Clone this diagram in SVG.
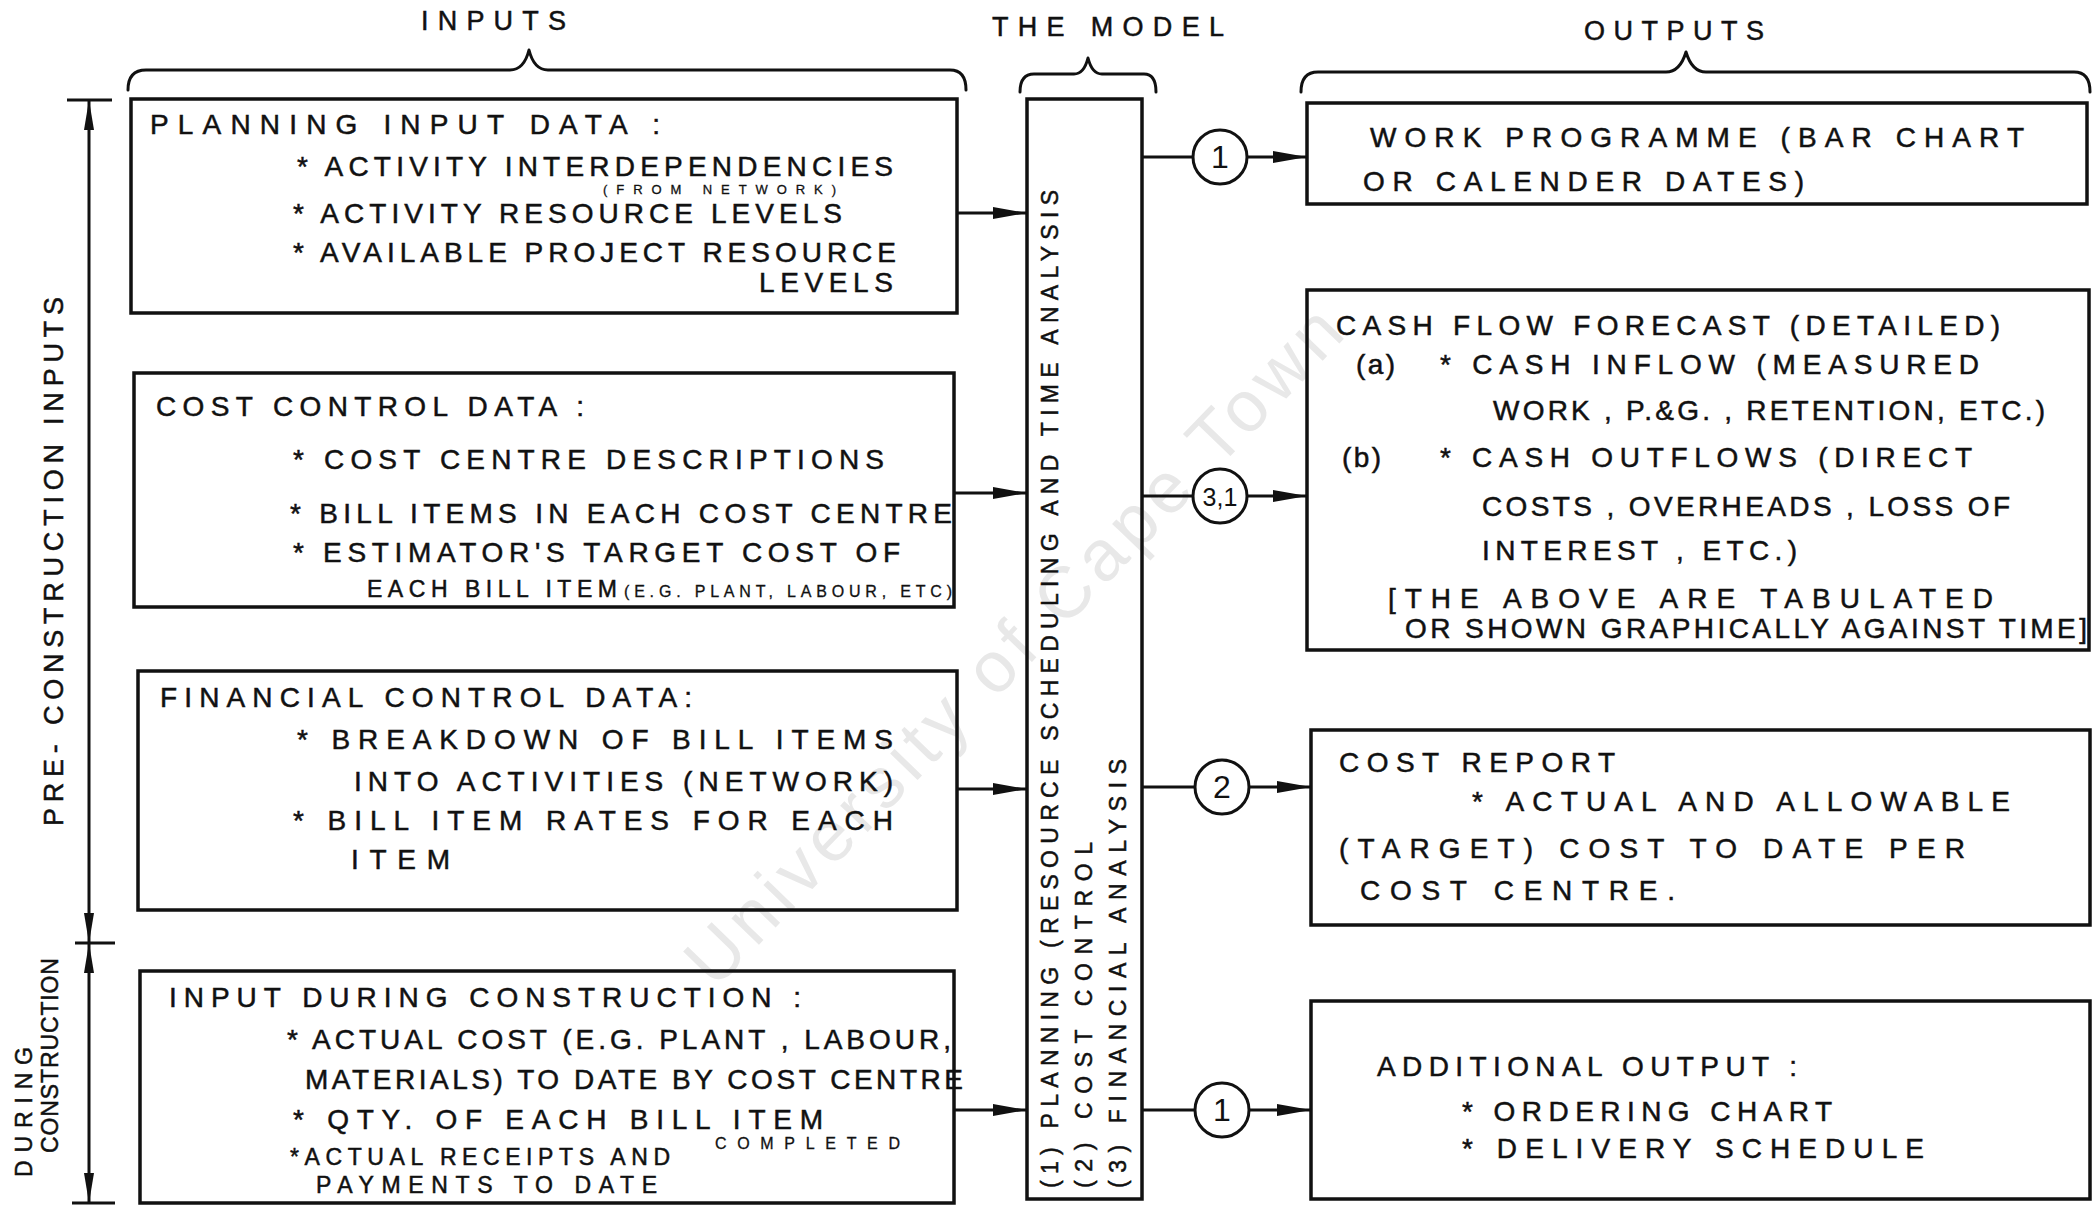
<svg xmlns="http://www.w3.org/2000/svg" width="2096" height="1206" viewBox="0 0 2096 1206">
  <style>
    .bg { fill: #ffffff; }
    .box { fill: none; stroke: #111; stroke-width: 3.5; }
    .ln { fill: none; stroke: #111; stroke-width: 3; }
    .brace { fill: none; stroke: #111; stroke-width: 3; stroke-linecap: round; stroke-linejoin: round; }
    .t { font-family: "Liberation Sans", Arial, sans-serif; font-size: 28px; fill: #111; stroke: #111; stroke-width: 0.5; }
    .sm { font-size: 16px; stroke-width: 0.3; }
    .xs { font-size: 13px; stroke-width: 0.3; }
    .md { font-size: 23px; }
    .hd { font-family: "Liberation Sans", Arial, sans-serif; font-size: 27px; fill: #111; stroke: #111; stroke-width: 0.5; }
    .num { font-family: "Liberation Sans", Arial, sans-serif; font-size: 32px; fill: #111; text-anchor: middle; }
    .wm { font-family: "Liberation Sans", Arial, sans-serif; font-size: 72px; fill: #e8e8e8; }
  </style>
  <defs>
    <marker id="arr" viewBox="0 0 34 16" refX="34" refY="8" markerWidth="34" markerHeight="16" markerUnits="userSpaceOnUse" orient="auto">
      <path d="M0,2 L34,8 L0,14 Z" fill="#111"/>
    </marker>
    <marker id="dim" viewBox="0 0 30 14" refX="30" refY="7" markerWidth="30" markerHeight="14" markerUnits="userSpaceOnUse" orient="auto-start-reverse">
      <path d="M0,2 L30,7 L0,12 Z" fill="#111"/>
    </marker>
  </defs>

  <rect class="bg" x="0" y="0" width="2096" height="1206"/>

  <!-- faint watermark behind everything -->
  <text class="wm" transform="translate(715,990) rotate(-46)" textLength="910">University of Cape Town</text>

  <!-- column headings and braces -->
  <g id="headings">
    <text class="hd" x="421" y="30" textLength="145">INPUTS</text>
    <text class="hd" x="992" y="36" textLength="232">THE MODEL</text>
    <text class="hd" x="1584" y="40" textLength="180">OUTPUTS</text>
    <path class="brace" d="M128,90 Q128,70 146,70 L510,70 Q524,70 529,50 Q534,70 548,70 L950,70 Q966,70 966,90"/>
    <path class="brace" d="M1020,92 Q1020,74 1034,74 L1074,74 Q1084,74 1088,58 Q1092,74 1102,74 L1144,74 Q1156,74 1156,92"/>
    <path class="brace" d="M1301,92 Q1301,72 1318,72 L1666,72 Q1680,72 1686,52 Q1692,72 1706,72 L2074,72 Q2090,72 2090,92"/>
  </g>

  <!-- phase dimension line on the left -->
  <g id="phases">
    <line class="ln" x1="89" y1="100" x2="89" y2="943" marker-start="url(#dim)" marker-end="url(#dim)"/>
    <line class="ln" x1="89" y1="943" x2="89" y2="1203" marker-start="url(#dim)" marker-end="url(#dim)"/>
    <line class="ln" x1="67" y1="100" x2="112" y2="100"/>
    <line class="ln" x1="75" y1="943" x2="115" y2="943"/>
    <line class="ln" x1="72" y1="1203" x2="115" y2="1203"/>
    <text class="hd" transform="translate(63,826) rotate(-90)" textLength="529">PRE- CONSTRUCTION  INPUTS</text>
    <text class="t md" transform="translate(32,1177) rotate(-90)" textLength="130">DURING</text>
    <text class="t md" transform="translate(58,1153) rotate(-90)" textLength="195">CONSTRUCTION</text>
  </g>

  <!-- input nodes -->
  <g id="planning-input">
    <rect class="box" x="131" y="99" width="826" height="214"/>
    <text class="t" x="150" y="134" textLength="510">PLANNING INPUT DATA :</text>
    <text class="t" x="297" y="176" textLength="596">* ACTIVITY  INTERDEPENDENCIES</text>
    <text class="t xs" x="603" y="194" textLength="233">(FROM NETWORK)</text>
    <text class="t" x="293" y="223" textLength="549">* ACTIVITY RESOURCE LEVELS</text>
    <text class="t" x="293" y="262" textLength="603">* AVAILABLE PROJECT RESOURCE</text>
    <text class="t" x="759" y="292" textLength="134">LEVELS</text>
  </g>

  <g id="cost-control-data">
    <rect class="box" x="134" y="373" width="820" height="234"/>
    <text class="t" x="156" y="416" textLength="428">COST CONTROL DATA :</text>
    <text class="t" x="293" y="469" textLength="591">* COST CENTRE DESCRIPTIONS</text>
    <text class="t" x="290" y="523" textLength="662">* BILL ITEMS  IN EACH COST CENTRE</text>
    <text class="t" x="293" y="562" textLength="607">* ESTIMATOR'S TARGET COST OF</text>
    <text class="t md" x="367" y="597" textLength="250">EACH BILL ITEM</text>
    <text class="t sm" x="624" y="597" textLength="328">(E.G. PLANT, LABOUR, ETC)</text>
  </g>

  <g id="financial-control-data">
    <rect class="box" x="138" y="671" width="819" height="239"/>
    <text class="t" x="160" y="707" textLength="532">FINANCIAL CONTROL DATA:</text>
    <text class="t" x="297" y="749" textLength="596">* BREAKDOWN OF BILL ITEMS</text>
    <text class="t" x="354" y="791" textLength="539">INTO ACTIVITIES (NETWORK)</text>
    <text class="t" x="293" y="830" textLength="600">* BILL ITEM RATES FOR EACH</text>
    <text class="t" x="351" y="869" textLength="99">ITEM</text>
  </g>

  <g id="input-during-construction">
    <rect class="box" x="140" y="971" width="814" height="232"/>
    <text class="t" x="169" y="1007" textLength="632">INPUT DURING CONSTRUCTION :</text>
    <text class="t" x="287" y="1049" textLength="664">* ACTUAL COST (E.G. PLANT , LABOUR,</text>
    <text class="t" x="305" y="1089" textLength="658">MATERIALS) TO DATE BY COST CENTRE</text>
    <text class="t" x="293" y="1129" textLength="530">* QTY. OF EACH BILL ITEM</text>
    <text class="t sm" x="715" y="1149" textLength="185">COMPLETED</text>
    <text class="t md" x="290" y="1165" textLength="380">*ACTUAL RECEIPTS AND</text>
    <text class="t md" x="316" y="1193" textLength="341">PAYMENTS TO DATE</text>
  </g>

  <!-- the model -->
  <g id="model">
    <rect class="box" x="1027" y="99" width="115" height="1100"/>
    <text class="t md" transform="translate(1058,1188) rotate(-90)" textLength="998">(1) PLANNING (RESOURCE SCHEDULING AND TIME ANALYSIS</text>
    <text class="t md" transform="translate(1092,1188) rotate(-90)" textLength="346">(2) COST CONTROL</text>
    <text class="t md" transform="translate(1126,1188) rotate(-90)" textLength="429">(3) FINANCIAL ANALYSIS</text>
  </g>

  <!-- output nodes -->
  <g id="work-programme">
    <rect class="box" x="1307" y="103" width="780" height="101"/>
    <text class="t" x="1370" y="147" textLength="654">WORK PROGRAMME (BAR CHART</text>
    <text class="t" x="1363" y="191" textLength="441">OR CALENDER DATES)</text>
  </g>

  <g id="cash-flow-forecast">
    <rect class="box" x="1307" y="290" width="782" height="360"/>
    <text class="t" x="1336" y="335" textLength="664">CASH FLOW FORECAST (DETAILED)</text>
    <text class="t" x="1356" y="374" textLength="39">(a)</text>
    <text class="t" x="1440" y="374" textLength="539">* CASH  INFLOW (MEASURED</text>
    <text class="t" x="1493" y="420" textLength="552">WORK , P.&amp;G. , RETENTION, ETC.)</text>
    <text class="t" x="1342" y="467" textLength="39">(b)</text>
    <text class="t" x="1440" y="467" textLength="532">* CASH  OUTFLOWS (DIRECT</text>
    <text class="t" x="1482" y="516" textLength="528">COSTS , OVERHEADS , LOSS OF</text>
    <text class="t" x="1482" y="560" textLength="315">INTEREST , ETC.)</text>
    <text class="t" x="1388" y="608" textLength="605">[THE ABOVE ARE TABULATED</text>
    <text class="t" x="1405" y="638" textLength="682">OR SHOWN GRAPHICALLY AGAINST TIME]</text>
  </g>

  <g id="cost-report">
    <rect class="box" x="1311" y="730" width="779" height="195"/>
    <text class="t" x="1339" y="772" textLength="276">COST REPORT</text>
    <text class="t" x="1472" y="811" textLength="538">* ACTUAL AND ALLOWABLE</text>
    <text class="t" x="1339" y="858" textLength="626">(TARGET) COST TO DATE PER</text>
    <text class="t" x="1360" y="900" textLength="315">COST CENTRE.</text>
  </g>

  <g id="additional-output">
    <rect class="box" x="1311" y="1001" width="779" height="198"/>
    <text class="t" x="1377" y="1076" textLength="420">ADDITIONAL OUTPUT :</text>
    <text class="t" x="1462" y="1121" textLength="370">* ORDERING CHART</text>
    <text class="t" x="1462" y="1158" textLength="462">* DELIVERY SCHEDULE</text>
  </g>

  <!-- connectors -->
  <g id="connectors">
    <line class="ln" x1="957" y1="213" x2="1027" y2="213" marker-end="url(#arr)"/>
    <line class="ln" x1="954" y1="493" x2="1027" y2="493" marker-end="url(#arr)"/>
    <line class="ln" x1="957" y1="789" x2="1027" y2="789" marker-end="url(#arr)"/>
    <line class="ln" x1="954" y1="1110" x2="1027" y2="1110" marker-end="url(#arr)"/>

    <line class="ln" x1="1142" y1="157" x2="1193" y2="157"/>
    <circle class="ln" cx="1220" cy="157" r="27"/>
    <text class="num" x="1220" y="168">1</text>
    <line class="ln" x1="1247" y1="157" x2="1307" y2="157" marker-end="url(#arr)"/>

    <line class="ln" x1="1142" y1="496" x2="1193" y2="496"/>
    <circle class="ln" cx="1220" cy="496" r="27"/>
    <text class="num" x="1220" y="506" style="font-size:25px">3,1</text>
    <line class="ln" x1="1247" y1="496" x2="1307" y2="496" marker-end="url(#arr)"/>

    <line class="ln" x1="1142" y1="787" x2="1195" y2="787"/>
    <circle class="ln" cx="1222" cy="787" r="27"/>
    <text class="num" x="1222" y="798">2</text>
    <line class="ln" x1="1249" y1="787" x2="1311" y2="787" marker-end="url(#arr)"/>

    <line class="ln" x1="1142" y1="1110" x2="1195" y2="1110"/>
    <circle class="ln" cx="1222" cy="1110" r="27"/>
    <text class="num" x="1222" y="1121">1</text>
    <line class="ln" x1="1249" y1="1110" x2="1311" y2="1110" marker-end="url(#arr)"/>
  </g>
</svg>
